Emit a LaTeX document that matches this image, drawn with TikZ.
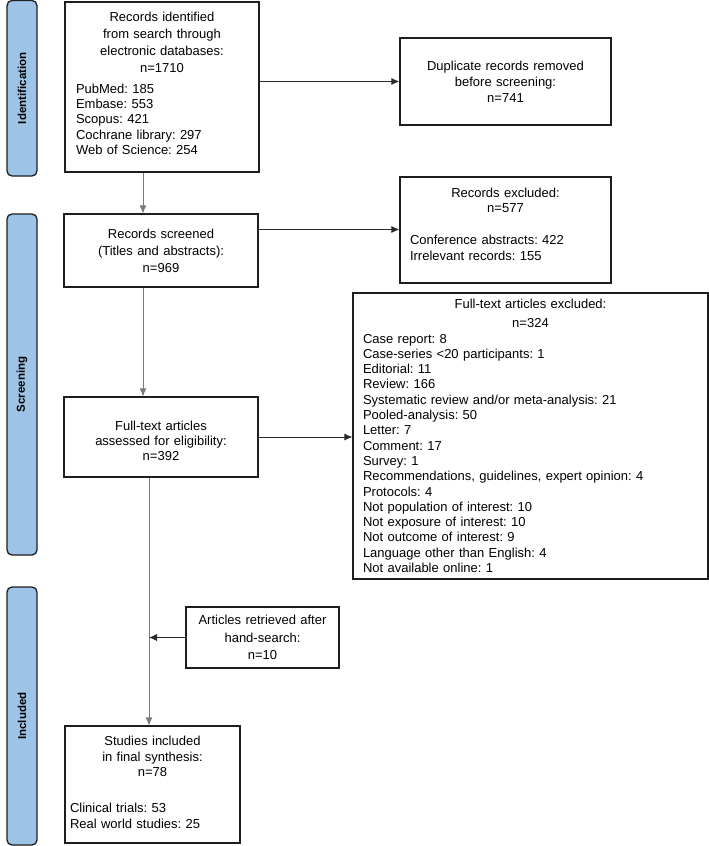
\documentclass[tikz,border=0pt]{standalone}
\usepackage{fontspec}
\setmainfont{Liberation Sans}
\usetikzlibrary{arrows.meta}
\definecolor{barblue}{HTML}{9DC3E6}
\definecolor{bord}{HTML}{1E1E1E}
\definecolor{linegray}{HTML}{7A7A7A}
\definecolor{linedark}{HTML}{2A2A2A}
\frenchspacing
\newcommand{\dn}[1]{\rule[-#1]{0pt}{#1}}
\newcommand{\up}[1]{\rule{0pt}{#1}}
\begin{document}
\begin{tikzpicture}[
  x=1pt,y=1pt,
  box/.style={draw=bord, line width=1.2pt, rectangle, inner ysep=0pt, font=\fontsize{13}{16}\selectfont},
  bar/.style={draw=bord, fill=barblue, line width=1.3pt, rounded corners=5pt, rectangle, inner sep=0pt, font=\bfseries\fontsize{11.5}{14}\selectfont},
  arr/.style={-{Latex[length=8pt,width=7pt]}, line width=0.8pt},
  darkline/.style={arr, draw=linedark},
  grayline/.style={arr, draw=linegray}
]
\useasboundingbox (0,0) rectangle (709,-846);

% phase bars
\node[bar, rotate=90, minimum width=175.5pt, minimum height=30pt] (idbar) at (22,-88.25) {Identification};
\node[bar, rotate=90, minimum width=341pt, minimum height=30pt] (scbar) at (22,-384.5) {Screening};
\node[bar, rotate=90, minimum width=258pt, minimum height=30pt] (inbar) at (22,-716) {Included};

% boxes
\node[box, minimum width=194pt, minimum height=170pt, inner xsep=11pt, text width=172pt] (ident) at (162,-87)
 {\fontsize{13}{17}\selectfont\centering Records identified\\from search through\\electronic databases:\\n=1710\par
  \vspace{6pt}\fontsize{13}{15.2}\selectfont\raggedright PubMed: 185\\Embase: 553\\Scopus: 421\\Cochrane library: 297\\Web of Science: 254\dn{8pt}\par};

\node[box, minimum width=211pt, minimum height=87pt, text width=190pt, align=center] (dup) at (505.5,-81.5)
 {Duplicate records removed\\before screening:\\n=741};

\node[box, minimum width=194pt, minimum height=73pt, text width=172pt, align=center, font=\fontsize{13}{17}\selectfont] (scr) at (161,-250.5)
 {Records screened\\(Titles and abstracts):\\n=969};

\node[box, minimum width=211pt, minimum height=106pt, inner xsep=10pt, text width=191pt] (excl) at (505.5,-230)
 {\fontsize{13}{15}\selectfont\centering Records excluded:\\n=577\par
  \vspace{16pt}\fontsize{13}{16}\selectfont\raggedright Conference abstracts: 422\\Irrelevant records: 155\dn{12pt}\par};

\node[box, minimum width=194pt, minimum height=80pt, text width=172pt, align=center, font=\fontsize{13}{15}\selectfont] (ft) at (161,-437)
 {\up{16.5pt}Full-text articles\\assessed for eligibility:\\n=392};

\node[box, minimum width=355pt, minimum height=286pt, inner xsep=10pt, text width=335pt] (big) at (530.5,-436)
 {\fontsize{13}{19}\selectfont\centering Full-text articles excluded:\\n=324\par
  \fontsize{13}{15.3}\selectfont\raggedright
  Case report: 8\\
  Case-series <20 participants: 1\\
  Editorial: 11\\
  Review: 166\\
  Systematic review and/or meta-analysis: 21\\
  Pooled-analysis: 50\\
  Letter: 7\\
  Comment: 17\\
  Survey: 1\\
  Recommendations, guidelines, expert opinion: 4\\
  Protocols: 4\\
  Not population of interest: 10\\
  Not exposure of interest: 10\\
  Not outcome of interest: 9\\
  Language other than English: 4\\
  Not available online: 1\par};

\node[box, minimum width=153pt, minimum height=61pt, text width=140pt, align=center, font=\fontsize{13}{17.5}\selectfont] (hand) at (262.5,-637.5)
 {Articles retrieved after\\hand-search:\\n=10};

\node[box, minimum width=175pt, minimum height=117pt, inner xsep=5pt, text width=165pt] (stud) at (152.5,-784.5)
 {\fontsize{13}{15.5}\selectfont\centering Studies included\\in final synthesis:\\n=78\par
  \vspace{20pt}\fontsize{13}{16}\selectfont\raggedright Clinical trials: 53\\Real world studies: 25\dn{4pt}\par};

% connectors
\draw[darkline] (dup.west -| ident.east) -- (dup.west);
\draw[grayline] ([xshift=-19pt]ident.south) -- ([xshift=-18pt]scr.north);
\draw[darkline] ([yshift=21pt]scr.east) -- ([yshift=21pt]scr.east -| excl.west);
\draw[grayline] ([xshift=-18pt]scr.south) -- ([xshift=-18pt]ft.north);
\draw[darkline] (ft.east) -- (ft.east -| big.west);
\coordinate (mainline) at ([xshift=-12pt]ft.south);
\draw[grayline] (mainline) -- (mainline |- stud.north);
\draw[darkline] (hand.west) -- (hand.west -| mainline);
\end{tikzpicture}
\end{document}
